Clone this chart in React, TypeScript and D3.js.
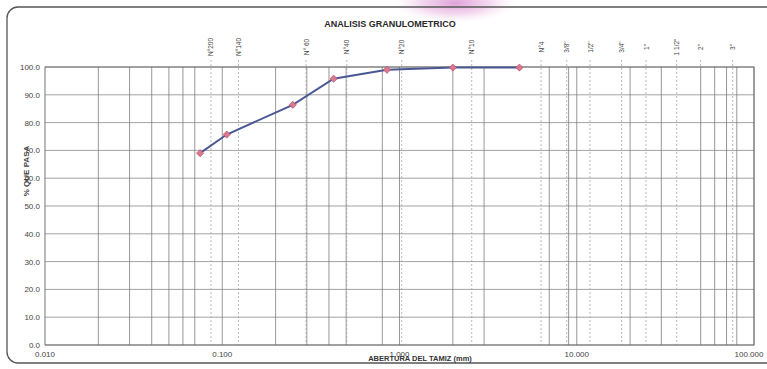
import React from "react";
import * as d3 from "d3";

// sieve openings (mm) and % passing
const sizes = [0.075, 0.106, 0.25, 0.425, 0.85, 2.0, 4.75];
const passing = [69.0, 75.7, 86.4, 95.8, 99.0, 99.8, 99.8];

// sieve reference lines as drawn on the template
const sieveNames = ["N°200", "N°140", "N° 60", "N°40", "N°20", "N°10", "N°4", "3/8\"", "1/2\"", "3/4\"", "1\"", "1 1/2\"", "2\"", "3\""];
const sieveMarks = [0.0864, 0.1235, 0.297, 0.504, 1.029, 2.555, 6.29, 8.78, 11.88, 17.9, 24.6, 36.6, 50.0, 75.8];

// vertical grid lines visible on the sheet
const gridValues = [0.02, 0.03, 0.04, 0.05, 0.06, 0.07, 0.1, 0.2, 0.3, 0.4, 0.5, 0.8, 1, 2, 3, 7, 9, 10, 20, 30, 50, 60, 70, 80, 100];

const xTicks = [0.01, 0.1, 1, 10, 100];
const xTickLabels = ["0.010", "0.100", "1.000", "10.000", "100.000"];
const yTicks = [0, 10, 20, 30, 40, 50, 60, 70, 80, 90, 100];

const W = 767;
const H = 369;
const margin = { top: 67, right: 13, bottom: 24, left: 45 };

const App: React.FC = () => {
  const x = d3.scaleLog().domain([0.01, 100]).range([margin.left, W - margin.right]);
  const y = d3.scaleLinear().domain([0, 100]).range([H - margin.bottom, margin.top]);

  const pts = sizes.map((s, i) => [x(s), y(passing[i])] as [number, number]);
  const line = d3.line().x((d) => d[0]).y((d) => d[1]);
  // square turned 45deg gives the Excel diamond marker
  const marker = d3.symbol().type(d3.symbolSquare).size(26)();

  const font = "'Liberation Sans', Arial, sans-serif";
  const x0 = x(0.01);
  const x1 = x(100);
  const yTop = y(100);
  const yBot = y(0);

  return (
    <svg
      width={W}
      height={H}
      style={{ position: "absolute", left: 0, top: 0, display: "block", background: "#fff" }}
      fontFamily={font}
    >
      <defs>
        <radialGradient id="stamp" cx="50%" cy="50%" r="50%">
          <stop offset="0%" stopColor="#d68ad0" stopOpacity={0.8} />
          <stop offset="55%" stopColor="#e8b0df" stopOpacity={0.5} />
          <stop offset="100%" stopColor="#f6dff2" stopOpacity={0} />
        </radialGradient>
      </defs>
      <ellipse cx={455} cy={3} rx={62} ry={20} fill="url(#stamp)" />

      {/* sheet border */}
      <rect x={7} y={7} width={800} height={356} rx={11} fill="none" stroke="#555" strokeWidth={1.3} />

      <text x={390} y={27} textAnchor="middle" fontSize={9} fontWeight="bold" fill="#2a2a2a">
        ANALISIS GRANULOMETRICO
      </text>

      {/* horizontal grid */}
      {yTicks.map((t) => (
        <line key={"h" + t} x1={x0} x2={x1} y1={y(t)} y2={y(t)} stroke="#8c8c8c" strokeWidth={0.8} />
      ))}

      {/* vertical grid */}
      {gridValues.map((g) => (
        <line key={"v" + g} x1={x(g)} x2={x(g)} y1={yTop} y2={yBot} stroke="#7d7d7d" strokeWidth={0.8} />
      ))}

      {/* sieve dashed lines and labels */}
      {sieveMarks.map((m, i) => (
        <g key={"s" + i}>
          <line x1={x(m)} x2={x(m)} y1={yTop - 7} y2={yBot} stroke="#a8a8a8" strokeWidth={0.8} strokeDasharray="2,2" />
          <text
            transform={`translate(${x(m) + 2.5},47) rotate(-90)`}
            textAnchor="middle"
            fontSize={6.5}
            fill="#444"
          >
            {sieveNames[i]}
          </text>
        </g>
      ))}

      {/* plot frame */}
      <rect x={x0} y={yTop} width={x1 - x0} height={yBot - yTop} fill="none" stroke="#666" strokeWidth={0.9} />

      {/* y ticks */}
      {yTicks.map((t) => (
        <text key={"yt" + t} x={40} y={y(t) + 3} textAnchor="end" fontSize={8} fill="#444">
          {t.toFixed(1)}
        </text>
      ))}

      {/* x ticks */}
      {xTicks.map((t, i) => (
        <text
          key={"xt" + t}
          x={x(t) - (i === xTicks.length - 1 ? 5 : 0)}
          y={357}
          textAnchor="middle"
          fontSize={8}
          fill="#444"
        >
          {xTickLabels[i]}
        </text>
      ))}

      <text x={420} y={361} textAnchor="middle" fontSize={7.5} fontWeight="bold" fill="#333">
        ABERTURA DEL TAMIZ (mm)
      </text>
      <text transform="translate(29,171) rotate(-90)" textAnchor="middle" fontSize={8} fontWeight="bold" fill="#444">
        % QUE PASA
      </text>

      {/* curve */}
      <path d={line(pts) || ""} fill="none" stroke="#4a5893" strokeWidth={2} />
      {pts.map((p, i) => (
        <path
          key={"p" + i}
          d={marker || ""}
          transform={`translate(${p[0]},${p[1]}) rotate(45)`}
          fill="#d9798f"
          stroke="#b9476a"
          strokeWidth={0.6}
        />
      ))}
    </svg>
  );
};

export default App;
